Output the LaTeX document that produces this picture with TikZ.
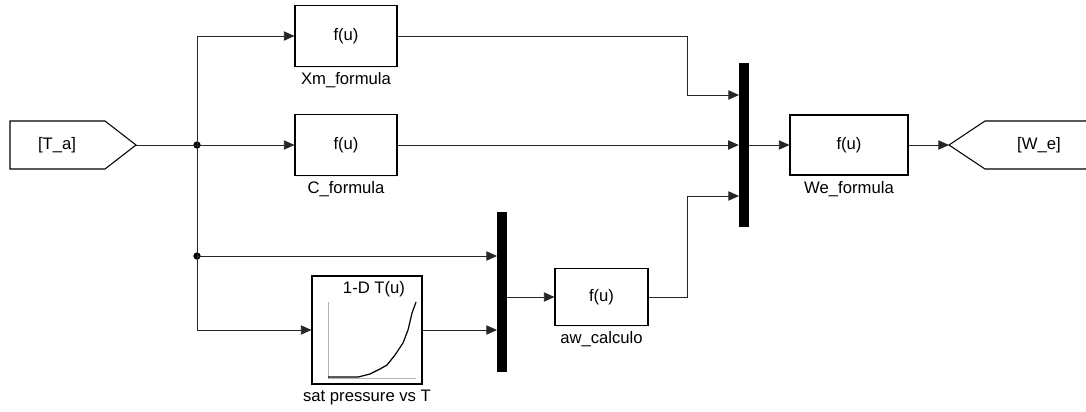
\documentclass[tikz,border=0pt]{standalone}
\usepackage{fontspec}
\setmainfont{Liberation Sans}
\usetikzlibrary{arrows.meta}
\usetikzlibrary{positioning,shadows}

\begin{document}
\begin{tikzpicture}[x=0.75pt,y=-0.75pt,
    font=\fontsize{12.5}{14}\selectfont,
    blk/.style={draw, fill=white, line width=0.8pt, inner sep=0pt,
      drop shadow={opacity=0.12, shadow xshift=1pt, shadow yshift=-1pt}},
    muxbar/.style={fill=black, inner sep=0pt, minimum width=7.5pt},
    lbl/.style={inner sep=1pt},
    wire/.style={draw=black!85, line width=0.7pt},
    sig/.style={wire, -{Triangle[length=8pt,width=7pt]}},
    dot/.style={circle, fill=black, inner sep=0pt, minimum size=5.5pt}]
        \useasboundingbox (0,0) rectangle (1086,411);
        % Goto / From tags
        \draw[line width=0.8pt, fill=white] (10,121) -- (105,121) -- (136,145) -- (105,169) -- (10,169) -- cycle;
        \node (ta) at (57,145) {[T\_a]};
        \coordinate (tatip) at (136,145);
        \draw[line width=0.8pt] (1086,121) -- (985,121) -- (949,145) -- (985,169) -- (1086,169);
        \node (we) at (1039,145) {[W\_e]};
        \coordinate (wetip) at (949,145);
        % Function blocks
        \node[blk, minimum width=76.5pt, minimum height=45.75pt] (xm) at (346,36) {f(u)};
        \node[lbl, below=3pt of xm] {Xm\_formula};
        \node[blk, minimum width=76.5pt, minimum height=45.75pt] (cf) at (346,145) {f(u)};
        \node[lbl, below=3pt of cf] {C\_formula};
        \node[blk, minimum width=69.75pt, minimum height=42.75pt] (aw) at (601.5,297) {f(u)};
        \node[lbl, below=3pt of aw] {aw\_calculo};
        \node[blk, minimum width=88.5pt, minimum height=45pt] (wf) at (849,145) {f(u)};
        \node[lbl, below=3pt of wf] {We\_formula};
        % Lookup table
        \node[blk, minimum width=82.5pt, minimum height=81pt] (lut) at (367,330) {};
        \node[lbl, below=3pt of lut] {sat pressure vs T};
        \node at (374,289) {1-D T(u)};
        \draw[black!30, line width=0.6pt] (328,302) -- (328,378) -- (416,378);
        \draw[line width=0.9pt] (328,377) -- (358,377) -- (370,374) -- (380,369) -- (387,365)
          -- (395,355) -- (403,343) -- (408,330) -- (412,313) -- (416,302);
        % Mux bars
        \node[muxbar, minimum height=123pt] (mux1) at (744,145) {};
        \node[muxbar, minimum height=120pt] (mux2) at (502,292) {};
        \coordinate (m1a) at (739,95);
        \coordinate (m1c) at (739,196);
        \coordinate (m2a) at (497,256);
        \coordinate (m2b) at (497,330);
        \coordinate (bx) at (687,95);
        \coordinate (by) at (687,196);
        % Branch points
        \node[dot] (j1) at (197,145) {};
        \node[dot] (j2) at (197,256) {};
        % Signals
        \draw[wire] (tatip) -- (j1.center);
        \draw[sig] (j1.center) -- (cf.west);
        \draw[sig] (j1.center) |- (xm.west);
        \draw[wire] (j1.center) -- (j2.center);
        \draw[sig] (j2.center) -- (m2a);
        \draw[sig] (j2.center) |- (lut.west);
        \draw[sig] (lut.east) -- (m2b);
        \draw[sig] (mux2.east |- aw.west) -- (aw.west);
        \draw[wire] (xm.east) -| (bx);
        \draw[sig] (bx) -- (m1a);
        \draw[sig] (cf.east) -- (cf.east -| mux1.west);
        \draw[wire] (aw.east) -| (by);
        \draw[sig] (by) -- (m1c);
        \draw[sig] (mux1.east |- wf.west) -- (wf.west);
        \draw[sig] (wf.east) -- (wetip);
      \end{tikzpicture}
\end{document}
